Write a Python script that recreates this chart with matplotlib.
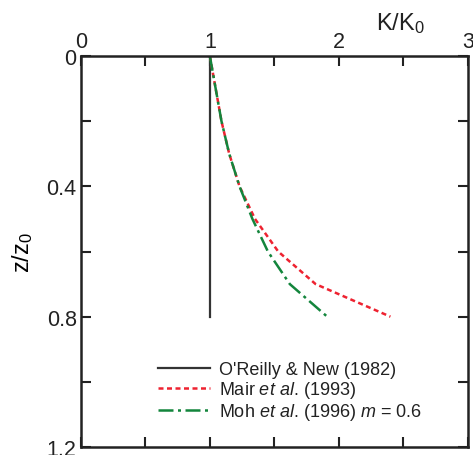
import matplotlib
matplotlib.use('Agg')
import matplotlib.pyplot as plt
from matplotlib.ticker import FixedLocator

plt.rcParams['font.family'] = ['Liberation Sans', 'DejaVu Sans']
plt.rcParams['mathtext.fontset'] = 'custom'
plt.rcParams['mathtext.rm'] = 'Liberation Sans'
plt.rcParams['mathtext.it'] = 'Liberation Sans:italic'
plt.rcParams['text.color'] = '#222222'
plt.rcParams['xtick.labelcolor'] = '#222222'
plt.rcParams['ytick.labelcolor'] = '#222222'

# depth ratio z/z0 and normalised K for each method
z_oreilly = [0.0, 0.8]
k_oreilly = [1.0, 1.0]

z_mair = [0.0, 0.1, 0.2, 0.3, 0.4, 0.5, 0.6, 0.7, 0.8]
k_mair = [1.0, 1.045, 1.09, 1.15, 1.23, 1.35, 1.53, 1.82, 2.40]

z_moh = [0.0, 0.1, 0.2, 0.3, 0.4, 0.5, 0.6, 0.7, 0.8]
k_moh = [1.0, 1.045, 1.09, 1.15, 1.23, 1.33, 1.45, 1.62, 1.91]

fig = plt.figure(figsize=(4.73, 4.56), dpi=100)
ax = fig.add_axes([0.171, 0.0175, 0.818, 0.8575])

ax.plot(k_oreilly, z_oreilly, color='#333333', lw=1.6, label="O'Reilly & New (1982)")
ax.plot(k_mair, z_mair, color='#ee2230', lw=1.8, ls=(0, (2.0, 1.4)),
        label=r'Mair $\mathit{et\ al}$. (1993)')
ax.plot(k_moh, z_moh, color='#13853c', lw=1.8, ls=(0, (6, 1.8, 1.2, 1.8)),
        label=r'Moh $\mathit{et\ al}$. (1996) $\mathit{m}$ = 0.6')

ax.set_xlim(0, 3)
ax.set_ylim(1.2, 0)
ax.xaxis.set_major_locator(FixedLocator([0, 1, 2, 3]))
ax.xaxis.set_minor_locator(FixedLocator([0.5, 1.5, 2.5]))
ax.yaxis.set_major_locator(FixedLocator([0, 0.4, 0.8, 1.2]))
ax.yaxis.set_minor_locator(FixedLocator([0.2, 0.6, 1.0]))
ax.set_yticklabels(['0', '0.4', '0.8', '1.2'])
ax.set_xticklabels(['0', '1', '2', '3'])

ax.xaxis.tick_top()
ax.tick_params(which='both', direction='in', length=7, width=1.5, color='#222222',
               top=True, bottom=True, left=True, right=True, labelsize=15.5, pad=3)
ax.tick_params(axis='x', labeltop=True, labelbottom=False)
for s in ax.spines.values():
    s.set_linewidth(1.8)
    s.set_color('#222222')

ax.set_ylabel('z/z$_0$', fontsize=17, labelpad=8)
ax.text(0.827, 1.068, 'K/K$_0$', transform=ax.transAxes, fontsize=17,
        ha='center', va='baseline')

ax.legend(loc='upper left', bbox_to_anchor=(0.18, 0.238), frameon=False,
          fontsize=13, handlelength=2.9, handletextpad=0.5, labelspacing=0.05,
          borderaxespad=0)

fig.savefig('out.png', dpi=100)
